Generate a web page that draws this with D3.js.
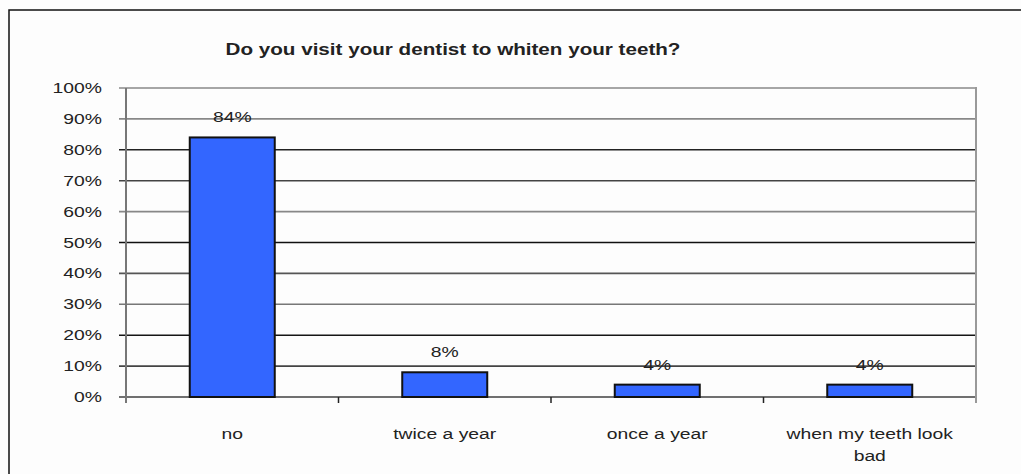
<!DOCTYPE html>
<html>
<head>
<meta charset="utf-8">
<script src="https://cdn.jsdelivr.net/npm/d3@7"></script>
<style>
  html, body { margin: 0; padding: 0; background: #fdfdfd; }
  svg { display: block; }
  text { font-family: Arial, "Liberation Sans", sans-serif; fill: #222; }
</style>
</head>
<body>
<svg id="chart" width="1021" height="474"></svg>
<script>
// Survey answers and their shares (percent)
const categories = ["no", "twice a year", "once a year", "when my teeth look bad"];
const values = [84, 8, 4, 4];
const valueLabels = ["84%", "8%", "4%", "4%"];
const yTicks = [0, 10, 20, 30, 40, 50, 60, 70, 80, 90, 100];
const yTickLabels = ["0%", "10%", "20%", "30%", "40%", "50%", "60%", "70%", "80%", "90%", "100%"];
const title = "Do you visit your dentist to whiten your teeth?";

// Gridline tones, bottom to top
const gridTones = ["#707070", "#444", "#151515", "#777", "#555", "#111", "#888", "#444", "#222", "#888", "#888"];

const W = 1021, H = 474;
const plot = { left: 126, right: 976, top: 88, bottom: 397 };
const sx = 1.38; // wide text face

const svg = d3.select("#chart");

// outer frame
svg.append("path")
  .attr("d", `M9,${H} V10 H${W}`)
  .attr("fill", "none").attr("stroke", "#111").attr("stroke-width", 1.5);

const x = d3.scaleBand().domain(categories)
  .range([plot.left, plot.right]).paddingInner(0.6).paddingOuter(0.3);
const y = d3.scaleLinear().domain([0, 100]).range([plot.bottom, plot.top]);

// horizontal gridlines with small ticks on the left
const grid = svg.append("g");
yTicks.forEach((t, i) => {
  grid.append("line")
    .attr("x1", plot.left - 7).attr("x2", plot.right)
    .attr("y1", y(t)).attr("y2", y(t))
    .attr("stroke", gridTones[i]).attr("stroke-width", i === 0 ? 2 : 1.6);
});

// y tick labels
yTicks.forEach((t, i) => {
  svg.append("g")
    .attr("transform", `translate(102,${y(t) + 5}) scale(${sx},1)`)
    .append("text")
    .attr("text-anchor", "end")
    .attr("font-size", 14)
    .attr("fill", "#333")
    .text(yTickLabels[i]);
});

// left axis line
svg.append("line")
  .attr("x1", plot.left).attr("x2", plot.left)
  .attr("y1", plot.top).attr("y2", plot.bottom + 6)
  .attr("stroke", "#777").attr("stroke-width", 2);

// right frame of the plot area
svg.append("line")
  .attr("x1", plot.right).attr("x2", plot.right)
  .attr("y1", plot.top - 1).attr("y2", plot.bottom + 6)
  .attr("stroke", "#999").attr("stroke-width", 2);

// category separators below the baseline
const step = x.step();
d3.range(1, categories.length).forEach(k => {
  const xx = plot.left + k * step;
  svg.append("line")
    .attr("x1", xx).attr("x2", xx)
    .attr("y1", plot.bottom).attr("y2", plot.bottom + 6)
    .attr("stroke", "#222").attr("stroke-width", 1.5);
});

// bars
svg.append("g").selectAll("rect")
  .data(categories)
  .join("rect")
  .attr("x", d => x(d))
  .attr("width", x.bandwidth())
  .attr("y", (d, i) => y(values[i]))
  .attr("height", (d, i) => y(0) - y(values[i]))
  .attr("fill", "#3366ff")
  .attr("stroke", "#111")
  .attr("stroke-width", 2);

// value labels
categories.forEach((c, i) => {
  svg.append("g")
    .attr("transform", `translate(${x(c) + x.bandwidth() / 2},${y(values[i]) - 15}) scale(${sx},1)`)
    .append("text")
    .attr("text-anchor", "middle")
    .attr("font-size", 14)
    .attr("fill", "#333")
    .text(valueLabels[i]);
});

// category labels, wrapped to the band
categories.forEach(c => {
  const cx = x(c) + x.bandwidth() / 2;
  const words = c.split(" ");
  const lines = [];
  let line = "";
  words.forEach(w => {
    const trial = line ? line + " " + w : w;
    if (trial.length > 18) { lines.push(line); line = w; } else line = trial;
  });
  lines.push(line);
  lines.forEach((ln, j) => {
    svg.append("g")
      .attr("transform", `translate(${cx},${439 + j * 22}) scale(${sx},1)`)
      .append("text")
      .attr("text-anchor", "middle")
      .attr("font-size", 14)
      .attr("fill", "#333")
      .text(ln);
  });
});

// title
svg.append("g")
  .attr("transform", `translate(453,55) scale(1.29,1)`)
  .append("text")
  .attr("text-anchor", "middle")
  .attr("font-size", 16)
  .attr("font-weight", "bold")
  .attr("fill", "#111")
  .text(title);
</script>
</body>
</html>
